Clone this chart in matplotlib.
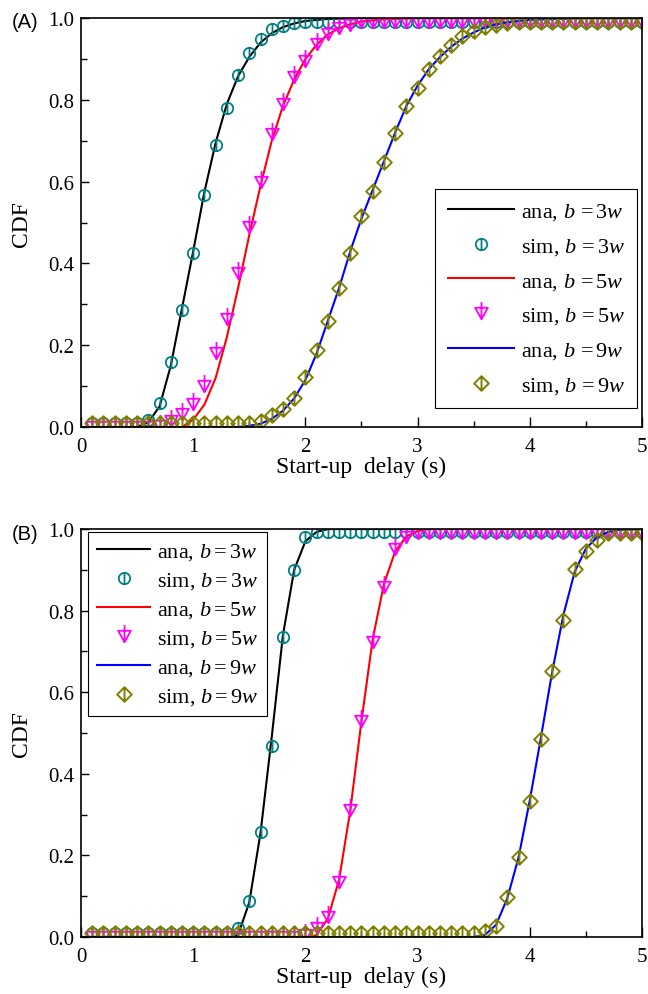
import numpy as np
import matplotlib
matplotlib.use("Agg")
import matplotlib.pyplot as plt
from matplotlib.path import Path
from matplotlib.ticker import MultipleLocator, FormatStrFormatter

plt.rcParams.update({
    "font.family": ["Liberation Serif", "DejaVu Serif"],
    "mathtext.fontset": "custom",
    "mathtext.rm": "Liberation Serif",
    "mathtext.it": "Liberation Serif:italic",
    "mathtext.bf": "Liberation Serif:bold",
})

# ---------------- data ----------------
x_sim = np.round(np.arange(1, 51) * 0.1, 1)

# Panel A simulation values (x = 0.1 ... 5.0)
simA_3w = [0.01, 0.01, 0.01, 0.01, 0.01, 0.018, 0.059, 0.16, 0.286, 0.425,
           0.567, 0.69, 0.78, 0.86, 0.915, 0.95, 0.973, 0.981, 0.987, 0.99] + [0.99] * 30
simA_5w = [0.0, 0.0, 0.0, 0.0, 0.0, 0.0, 0.003, 0.015, 0.032, 0.056,
           0.10, 0.18, 0.264, 0.376, 0.49, 0.60, 0.716, 0.79, 0.856, 0.895,
           0.936, 0.962, 0.975, 0.983] + [0.99] * 26
simA_9w = [0.01] * 15 + [0.015, 0.03, 0.045, 0.072, 0.122,
           0.188, 0.259, 0.34, 0.425, 0.516, 0.577, 0.648, 0.72, 0.785, 0.83,
           0.875, 0.907, 0.934, 0.956, 0.968, 0.978, 0.984, 0.988] + [0.99] * 12

# Panel A analytical curves
anaA_3w_x = [0.0, 0.5, 0.6, 0.7, 0.8, 0.9, 1.0, 1.1, 1.2, 1.3, 1.4, 1.5, 1.6, 1.7, 1.8, 1.9, 2.0, 2.2, 2.5, 5.0]
anaA_3w_y = [0.0, 0.0, 0.012, 0.05, 0.15, 0.29, 0.43, 0.575, 0.695, 0.79, 0.858, 0.905, 0.94, 0.963, 0.978, 0.987, 0.993, 0.998, 1.0, 1.0]
anaA_5w_x = [0.0, 0.9, 1.0, 1.1, 1.2, 1.3, 1.4, 1.5, 1.6, 1.7, 1.8, 1.9, 2.0, 2.1, 2.2, 2.3, 2.4, 2.5, 2.7, 3.0, 5.0]
anaA_5w_y = [0.0, 0.0, 0.018, 0.055, 0.12, 0.22, 0.34, 0.47, 0.59, 0.70, 0.785, 0.85, 0.90, 0.935, 0.96, 0.975, 0.985, 0.992, 0.997, 1.0, 1.0]
anaA_9w_x = [0.0, 1.4, 1.5, 1.6, 1.7, 1.8, 1.9, 2.0, 2.1, 2.2, 2.3, 2.4, 2.5, 2.6, 2.7, 2.8, 2.9, 3.0,
             3.1, 3.2, 3.3, 3.4, 3.5, 3.6, 3.7, 3.8, 4.0, 4.5, 5.0]
anaA_9w_y = [0.0, 0.0, 0.003, 0.008, 0.02, 0.04, 0.07, 0.115, 0.18, 0.26, 0.34, 0.43, 0.51, 0.58, 0.65, 0.72, 0.785, 0.835,
             0.875, 0.905, 0.93, 0.95, 0.965, 0.977, 0.985, 0.99, 0.996, 1.0, 1.0]

# Panel B simulation values
simB_3w = [0.01] * 13 + [0.021, 0.088, 0.257, 0.469, 0.735, 0.90, 0.98] + [0.993] * 30
simB_5w = [0.0] * 19 + [0.005, 0.021, 0.048, 0.136, 0.311, 0.53, 0.724, 0.857, 0.951, 0.98] + [0.99] * 21
simB_9w = [0.01] * 35 + [0.014, 0.028, 0.099, 0.195, 0.334, 0.485, 0.651, 0.778, 0.902, 0.947,
           0.974, 0.99] + [0.99] * 3

# Panel B analytical curves
anaB_3w_x = [0.0, 1.35, 1.4, 1.5, 1.6, 1.7, 1.8, 1.9, 2.0, 2.1, 2.2, 5.0]
anaB_3w_y = [0.0, 0.0, 0.005, 0.085, 0.255, 0.49, 0.74, 0.90, 0.97, 0.993, 1.0, 1.0]
anaB_5w_x = [0.0, 2.05, 2.1, 2.2, 2.3, 2.4, 2.5, 2.6, 2.7, 2.8, 2.9, 3.0, 3.1, 5.0]
anaB_5w_y = [0.0, 0.0, 0.005, 0.045, 0.14, 0.31, 0.53, 0.73, 0.865, 0.945, 0.982, 0.995, 1.0, 1.0]
anaB_9w_x = [0.0, 3.5, 3.6, 3.7, 3.8, 3.9, 4.0, 4.1, 4.2, 4.3, 4.4, 4.5, 4.6, 4.7, 4.8, 5.0]
anaB_9w_y = [0.0, 0.0, 0.005, 0.03, 0.095, 0.195, 0.335, 0.49, 0.65, 0.79, 0.895, 0.952, 0.98, 0.993, 0.998, 1.0]

labelsA = [r"ana, $b\,{=}3w$", r"sim, $b\,{=}3w$",
           r"ana, $b\,{=}5w$", r"sim, $b\,{=}5w$",
           r"ana, $b\,{=}9w$", r"sim, $b\,{=}9w$"]
labelsB = [r"ana, $b{=}3w$", r"sim, $b{=}3w$",
           r"ana, $b{=}5w$", r"sim, $b{=}5w$",
           r"ana, $b{=}9w$", r"sim, $b{=}9w$"]

# ---------------- custom markers ----------------
M, L, C = Path.MOVETO, Path.LINETO, Path.CLOSEPOLY
circ = Path.unit_circle()
circle_bar = Path(np.vstack([circ.vertices, [[0, -1], [0, 1]]]),
                  np.concatenate([circ.codes, [M, L]]))
tri_bar = Path([(0, -0.9), (-1, 0.9), (1, 0.9), (0, -0.9), (0, -0.9), (0, 1.8)],
               [M, L, L, C, M, L])
dia_bar = Path([(0, -1), (1, 0), (0, 1), (-1, 0), (0, -1), (0, -1), (0, 1)],
               [M, L, L, L, C, M, L])

teal, magenta, olive = "#008080", "#FF00FF", "#808000"


def draw_panel(ax, ana, sims, labels, legend_kw):
    (a3x, a3y), (a5x, a5y), (a9x, a9y) = ana
    s3, s5, s9 = sims
    ax.plot(a3x, a3y, color="black", lw=1.5, label=labels[0])
    ax.plot(x_sim, s3, ls="none", marker=circle_bar, ms=8.2, mfc="none",
            mec=teal, mew=1.3, label=labels[1])
    ax.plot(a5x, a5y, color="red", lw=1.5, label=labels[2])
    ax.plot(x_sim, s5, ls="none", marker=tri_bar, ms=16.5, mfc="none",
            mec=magenta, mew=1.3, label=labels[3])
    ax.plot(a9x, a9y, color="blue", lw=1.5, label=labels[4])
    ax.plot(x_sim, s9, ls="none", marker=dia_bar, ms=10.5, mfc="none",
            mec=olive, mew=1.4, label=labels[5])

    ax.set_xlim(0, 5)
    ax.set_ylim(0, 1.0)
    ax.xaxis.set_major_locator(MultipleLocator(1))
    ax.xaxis.set_minor_locator(MultipleLocator(0.5))
    ax.yaxis.set_major_locator(MultipleLocator(0.2))
    ax.yaxis.set_minor_locator(MultipleLocator(0.1))
    ax.yaxis.set_major_formatter(FormatStrFormatter("%.1f"))
    ax.xaxis.set_major_formatter(FormatStrFormatter("%d"))
    ax.tick_params(which="both", direction="in", top=False, right=False,
                   width=1.0, labelsize=15)
    ax.tick_params(axis="y", which="major", length=6, pad=5)
    ax.tick_params(axis="y", which="minor", length=4)
    ax.tick_params(axis="x", which="major", length=7, pad=7)
    ax.tick_params(axis="x", which="minor", length=4)
    for sp in ax.spines.values():
        sp.set_linewidth(1.2)
        sp.set_zorder(5)
    ax.set_xlabel("Start-up  delay (s)", fontsize=17)
    ax.set_ylabel("CDF", fontsize=17)
    ax.xaxis.set_label_coords(0.5, -0.07)
    ax.yaxis.set_label_coords(-0.088, 0.5)

    leg = ax.legend(fontsize=16, frameon=True, fancybox=False, framealpha=1,
                    edgecolor="black", handletextpad=0.3,
                    borderaxespad=0, **legend_kw)
    leg.get_frame().set_linewidth(0.8)


fig = plt.figure(figsize=(6.48, 9.95), dpi=100)
axA = fig.add_axes([0.125, 0.5698, 0.8657, 0.411])
axB = fig.add_axes([0.125, 0.0573, 0.8657, 0.410])

draw_panel(axA,
           [(anaA_3w_x, anaA_3w_y), (anaA_5w_x, anaA_5w_y), (anaA_9w_x, anaA_9w_y)],
           [simA_3w, simA_5w, simA_9w], labelsA,
           dict(loc="lower right", bbox_to_anchor=(0.991, 0.046), labelspacing=0.62,
                borderpad=0.55, handlelength=3.0))
draw_panel(axB,
           [(anaB_3w_x, anaB_3w_y), (anaB_5w_x, anaB_5w_y), (anaB_9w_x, anaB_9w_y)],
           [simB_3w, simB_5w, simB_9w], labelsB,
           dict(loc="upper left", bbox_to_anchor=(0.0125, 0.993), labelspacing=0.36,
                borderpad=0.4, handlelength=2.4))

fig.text(0.0185, 0.977, "(A)", family="Liberation Sans", fontsize=14.5, va="center", ha="left")
fig.text(0.0185, 0.4625, "(B)", family="Liberation Sans", fontsize=14.5, va="center", ha="left")

fig.savefig("out.png", dpi=100)
